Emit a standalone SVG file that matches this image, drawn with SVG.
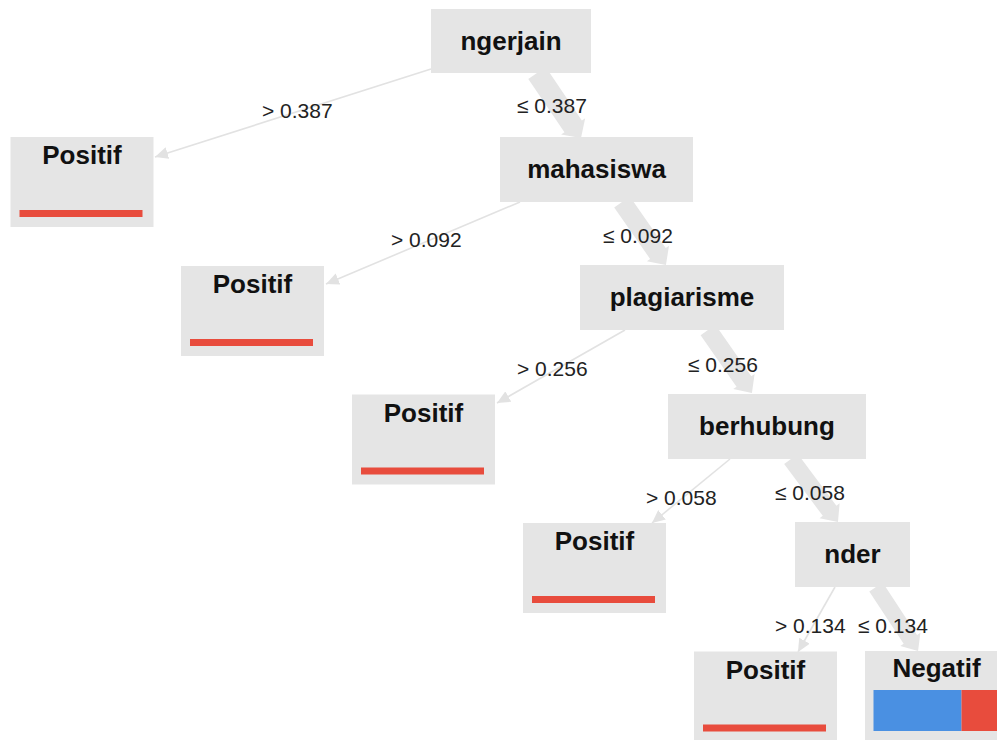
<svg xmlns="http://www.w3.org/2000/svg" width="997" height="740" viewBox="0 0 997 740">
<style>
.box{fill:#e5e5e5}
.name{font-family:"Liberation Sans",Arial,sans-serif;font-weight:bold;font-size:26px;fill:#111;text-anchor:middle}
.lbl{font-family:"Liberation Sans",Arial,sans-serif;font-size:21px;fill:#222}
.thin{stroke:#e2e2e2;stroke-width:1.6;fill:none;marker-end:url(#ah)}
.thick{fill:#e5e5e5}
.red{fill:#e84c3d}
.blue{fill:#4a90e2}
</style>
<defs>
<marker id="ah" markerUnits="userSpaceOnUse" markerWidth="14" markerHeight="12" refX="13" refY="6" orient="auto">
<polygon points="0,0 13,6 0,12" fill="#e2e2e2"/>
</marker>
</defs>
<rect width="997" height="740" fill="#fff"/>
<g id="edges">
<line class="thin" x1="431" y1="69" x2="155" y2="157"/>
<line class="thin" x1="520" y1="202" x2="326" y2="284"/>
<line class="thin" x1="625" y1="330" x2="497" y2="403"/>
<line class="thin" x1="730" y1="459" x2="652" y2="523"/>
<line class="thin" x1="835" y1="587" x2="798" y2="652"/>
<polygon class="thick" transform="translate(537,73) rotate(55.9)" points="0,-10.5 64.5,-10.5 64.5,-14.5 78.5,0 64.5,14.5 64.5,10.5 0,10.5"/>
<polygon class="thick" transform="translate(622,202) rotate(55.1)" points="0,-9.5 62.8,-9.5 62.8,-13.5 76.8,0 62.8,13.5 62.8,9.5 0,9.5"/>
<polygon class="thick" transform="translate(708,330) rotate(55.1)" points="0,-9 62.8,-9 62.8,-13 76.8,0 62.8,13 62.8,9 0,9"/>
<polygon class="thick" transform="translate(791,459) rotate(53.3)" points="0,-8.5 64.6,-8.5 64.6,-12.5 78.6,0 64.6,12.5 64.6,8.5 0,8.5"/>
<polygon class="thick" transform="translate(876,587) rotate(56.7)" points="0,-8 62.6,-8 62.6,-12 76.6,0 62.6,12 62.6,8 0,8"/>
<text class="lbl" x="262" y="118">&gt; 0.387</text>
<text class="lbl" x="517" y="113">≤ 0.387</text>
<text class="lbl" x="391" y="247">&gt; 0.092</text>
<text class="lbl" x="603" y="243">≤ 0.092</text>
<text class="lbl" x="517" y="376">&gt; 0.256</text>
<text class="lbl" x="688" y="372">≤ 0.256</text>
<text class="lbl" x="646" y="505">&gt; 0.058</text>
<text class="lbl" x="775" y="500">≤ 0.058</text>
<text class="lbl" x="775" y="633">&gt; 0.134</text>
<text class="lbl" x="858" y="633">≤ 0.134</text>
</g>
<g id="n-ngerjain"><rect class="box" x="431" y="9" width="160" height="64"/><text class="name" x="511" y="50">ngerjain</text></g>
<g id="n-positif1"><rect class="box" x="10.5" y="137" width="143" height="90"/><text class="name" x="82" y="164">Positif</text><rect class="red" x="19.5" y="210" width="123" height="7"/></g>
<g id="n-mahasiswa"><rect class="box" x="500" y="137" width="193" height="65"/><text class="name" x="596.5" y="178">mahasiswa</text></g>
<g id="n-positif2"><rect class="box" x="181" y="266" width="143" height="90"/><text class="name" x="252.5" y="293">Positif</text><rect class="red" x="190" y="339" width="123" height="7"/></g>
<g id="n-plagiarisme"><rect class="box" x="580" y="265" width="204" height="65"/><text class="name" x="682" y="306">plagiarisme</text></g>
<g id="n-positif3"><rect class="box" x="352" y="394.5" width="143" height="90"/><text class="name" x="423.5" y="421.5">Positif</text><rect class="red" x="361" y="467.5" width="123" height="7"/></g>
<g id="n-berhubung"><rect class="box" x="668" y="394" width="198" height="65"/><text class="name" x="767" y="435">berhubung</text></g>
<g id="n-positif4"><rect class="box" x="523" y="523" width="143" height="90"/><text class="name" x="594.5" y="550">Positif</text><rect class="red" x="532" y="596" width="123" height="7"/></g>
<g id="n-nder"><rect class="box" x="795" y="522" width="115" height="65"/><text class="name" x="852.5" y="563">nder</text></g>
<g id="n-positif5"><rect class="box" x="694" y="651.5" width="143" height="90"/><text class="name" x="765.5" y="678.5">Positif</text><rect class="red" x="703" y="724.5" width="123" height="7"/></g>
<g id="n-negatif"><rect class="box" x="865" y="651" width="143" height="90"/><text class="name" x="936.5" y="677">Negatif</text><rect class="blue" x="873.5" y="690" width="88" height="41"/><rect class="red" x="961.5" y="690" width="38" height="41"/></g>
</svg>
